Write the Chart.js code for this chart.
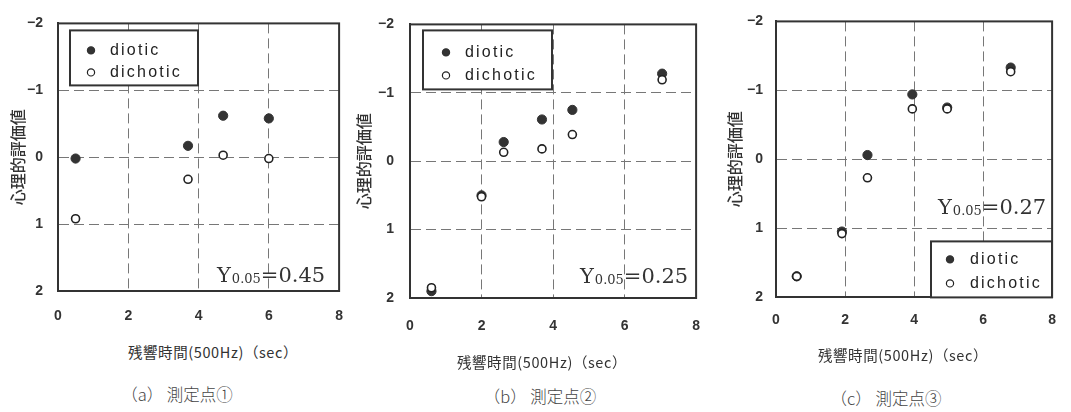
<!DOCTYPE html>
<html lang="ja">
<head>
<meta charset="utf-8">
<title>残響時間と心理的評価値</title>
<script src="https://cdn.jsdelivr.net/npm/chart.js@4.4.1/dist/chart.umd.min.js"></script>
<style>
  html, body { margin: 0; padding: 0; background: #fff; }
  body { position: relative; width: 1071px; height: 412px; overflow: hidden; }
  canvas { position: absolute; top: 0; }
  .xtitle, .caption {
    position: absolute; white-space: nowrap; transform: translate(-50%, -50%);
    font-family: "Noto Sans CJK JP", sans-serif; color: #333; line-height: 1;
  }
  .xtitle { font-size: 14.5px; letter-spacing: 0.6px; }
  .caption { font-size: 16.5px; font-weight: 300; color: #444; }
</style>
</head>
<body>
<canvas id="panelA" width="360" height="335" style="left:0px"></canvas>
<canvas id="panelB" width="370" height="345" style="left:350px"></canvas>
<canvas id="panelC" width="356" height="340" style="left:715px"></canvas>

<div class="xtitle" style="left:213px; top:352px">残響時間(500Hz)（sec）</div>
<div class="xtitle" style="left:542px; top:362px">残響時間(500Hz)（sec）</div>
<div class="xtitle" style="left:903px; top:355px">残響時間(500Hz)（sec）</div>

<div class="caption" style="left:177px; top:394px">（a）&nbsp;測定点①</div>
<div class="caption" style="left:540px; top:396px">（b）&nbsp;測定点②</div>
<div class="caption" style="left:886px; top:398px">（c）&nbsp;測定点③</div>

<script>
// Axis ticks
const xTickValues = [0, 2, 4, 6, 8];
const yTickValues = [-2, -1, 0, 1, 2];
const yTickLabels = ['\u22122', '\u22121', '0', '1', '2'];

// Series names
const seriesNames = ['diotic', 'dichotic'];

// (a) 測定点①  reverberation time (s) and psychological rating
const rtA       = [0.5, 3.7, 4.7, 6.0];
const dioticA   = [0.02, -0.17, -0.62, -0.58];
const dichoticA = [0.92, 0.33, -0.03, 0.02];
const noteA = { sub: '0.05', value: '0.45' };

// (b) 測定点②
const rtB       = [0.6, 2.0, 2.62, 3.69, 4.54, 7.05];
const dioticB   = [1.9, 0.5, -0.28, -0.61, -0.75, -1.28];
const dichoticB = [1.85, 0.52, -0.13, -0.18, -0.39, -1.19];
const noteB = { sub: '0.05', value: '0.25' };

// (c) 測定点③
const rtC       = [0.6, 1.91, 2.65, 3.95, 4.96, 6.8];
const dioticC   = [1.7, 1.05, -0.06, -0.94, -0.75, -1.33];
const dichoticC = [1.7, 1.08, 0.27, -0.73, -0.73, -1.27];
const noteC = { sub: '0.05', value: '0.27' };

const CJK = '"Noto Sans CJK JP", sans-serif';
const tickFont = { family: '"Liberation Sans Narrow", "Liberation Sans", Arial, sans-serif', size: 14, weight: 'bold' };

function points(xs, ys) {
  return xs.map((x, i) => ({ x: x, y: ys[i] }));
}

// Frame, boxed legend and the significance note inside the plot area
const panelDecor = {
  id: 'panelDecor',
  beforeDatasetsDraw(chart, args, opts) {
    const { ctx, chartArea: a } = chart;
    ctx.save();
    ctx.strokeStyle = '#333';
    ctx.lineWidth = 2;
    ctx.strokeRect(a.left, a.top, a.right - a.left, a.bottom - a.top);

    // Y0.05 = value
    const n = opts.note;
    let nx = a.left + n.dx;
    const ny = a.top + n.dy;
    ctx.fillStyle = '#333';
    ctx.textBaseline = 'alphabetic';
    ctx.textAlign = 'left';
    ctx.font = '21px "DejaVu Serif", serif';
    ctx.fillText('Y', nx, ny);
    nx += ctx.measureText('Y').width + 1;
    ctx.font = '13px "DejaVu Serif", serif';
    ctx.fillText(n.sub, nx, ny + 1);
    nx += ctx.measureText(n.sub).width;
    ctx.font = '21px "DejaVu Serif", serif';
    ctx.fillText('=' + n.value, nx, ny);

    // legend box
    const L = opts.legend;
    const bx = a.left + L.dx, by = a.top + L.dy;
    ctx.fillStyle = '#fff';
    ctx.fillRect(bx, by, L.w, L.h);
    ctx.strokeStyle = '#333';
    ctx.lineWidth = 2;
    ctx.strokeRect(bx, by, L.w, L.h);
    ctx.font = '16px "Liberation Sans", Arial, sans-serif';
    if ('letterSpacing' in ctx) ctx.letterSpacing = '2.2px';
    ctx.textBaseline = 'middle';
    chart.data.datasets.forEach((ds, i) => {
      const my = by + L.rows[i];
      const mx = bx + L.mx;
      ctx.beginPath();
      ctx.arc(mx, my, 3.6, 0, Math.PI * 2);
      ctx.fillStyle = ds.backgroundColor;
      ctx.fill();
      ctx.lineWidth = 1.2;
      ctx.strokeStyle = ds.borderColor;
      ctx.stroke();
      ctx.fillStyle = '#222';
      ctx.fillText(ds.label, bx + L.tx, my);
    });
    ctx.restore();
  }
};

function makeChart(id, rt, diotic, dichotic, g) {
  const gridLine = { color: '#777', lineWidth: 1, drawTicks: false };
  const border = { display: true, color: '#333', width: 2, dash: [10, 5] };
  return new Chart(document.getElementById(id), {
    type: 'scatter',
    data: {
      datasets: [
        {
          label: seriesNames[0], data: points(rt, diotic), order: 2,
          backgroundColor: '#333', borderColor: '#333', borderWidth: 1,
          pointRadius: 4.6, pointHoverRadius: 4.6
        },
        {
          label: seriesNames[1], data: points(rt, dichotic), order: 1,
          backgroundColor: '#fff', borderColor: '#222', borderWidth: 1.6,
          pointRadius: 4, pointHoverRadius: 4
        }
      ]
    },
    options: {
      responsive: false,
      animation: false,
      events: [],
      layout: { padding: { left: 0, top: g.top, right: g.right, bottom: g.bottom } },
      plugins: {
        legend: { display: false },
        tooltip: { enabled: false },
        panelDecor: { legend: g.legend, note: g.note }
      },
      scales: {
        x: {
          type: 'linear', min: 0, max: 8,
          afterBuildTicks: s => { s.ticks = xTickValues.map(v => ({ value: v })); },
          ticks: { font: tickFont, color: '#333', padding: g.xPad, maxRotation: 0 },
          grid: gridLine, border: border,
          afterFit: s => { s.height = g.xH; }
        },
        y: {
          type: 'linear', min: -2, max: 2, reverse: true,
          afterBuildTicks: s => { s.ticks = yTickValues.map(v => ({ value: v })); },
          ticks: {
            font: tickFont, color: '#333', padding: g.yPad,
            callback: v => yTickLabels[yTickValues.indexOf(v)]
          },
          grid: gridLine, border: border,
          title: {
            display: true, text: '心理的評価値', color: '#333',
            font: { family: CJK, size: 16, weight: '500' }, padding: { top: g.titlePad, bottom: 0 }
          },
          afterFit: s => { s.width = g.yW; }
        }
      }
    },
    plugins: [panelDecor]
  });
}

makeChart('panelA', rtA, dioticA, dichoticA, {
  top: 14, right: 18, bottom: 14, yW: 58, xH: 30, xPad: 17, yPad: 15, titlePad: 8,
  legend: { dx: 12, dy: 7, w: 128, h: 55, mx: 21, tx: 40, rows: [20, 42] },
  note: Object.assign({ dx: 159, dy: 259 }, noteA)
});
makeChart('panelB', rtB, dioticB, dichoticB, {
  top: 14, right: 15, bottom: 15, yW: 60, xH: 32, xPad: 20, yPad: 16, titlePad: 4,
  legend: { dx: 13, dy: 6, w: 129, h: 59, mx: 23, tx: 42, rows: [22, 45] },
  note: Object.assign({ dx: 170, dy: 259 }, noteB)
});
makeChart('panelC', rtC, dioticC, dichoticC, {
  top: 15, right: 9, bottom: 13, yW: 61, xH: 30, xPad: 15, yPad: 13, titlePad: 10,
  legend: { dx: 155, dy: 220, w: 121, h: 56, mx: 19, tx: 39, rows: [18, 42] },
  note: Object.assign({ dx: 162, dy: 193 }, noteC)
});
</script>
</body>
</html>
